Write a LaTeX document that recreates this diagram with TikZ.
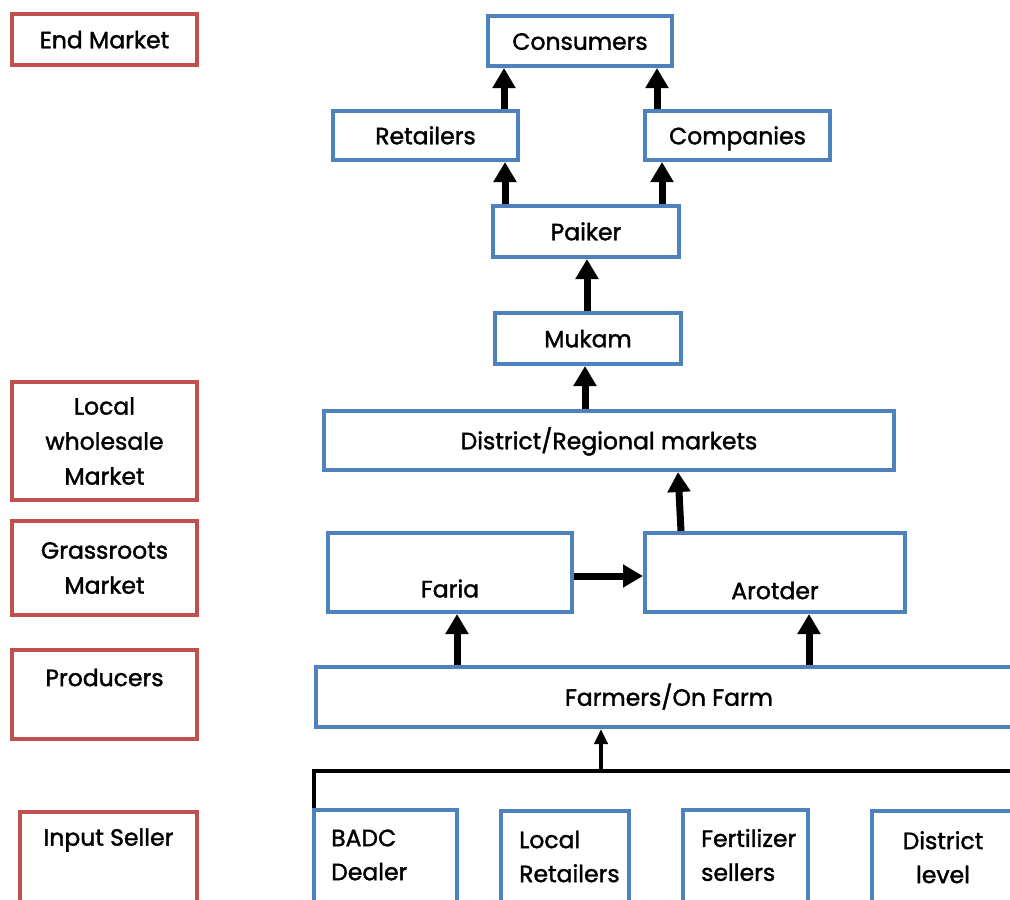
\documentclass[tikz,border=0pt]{standalone}
\usepackage{fontspec}
\setmainfont{Poppins}[FakeBold=1.6]
\usetikzlibrary{arrows.meta}
\definecolor{bbl}{RGB}{79,129,189}
\definecolor{rred}{RGB}{192,80,77}
\begin{document}
\begin{tikzpicture}[x=1pt,y=-1pt,
 box/.style={draw, line width=4pt, fill=white, inner sep=0pt, align=center, font=\fontsize{23.5}{35}\selectfont},
 bbox/.style={box, draw=bbl},
 rbox/.style={box, draw=rred},
 oneline/.style={text height=17.5pt, text depth=0pt},
 lbl/.style={font=\fontsize{23.5}{34}\selectfont, inner sep=0pt},
 arr/.style={line width=7pt, -{Triangle[width=22pt,length=20pt]}},
 thinarr/.style={line width=4pt, -{Triangle[width=13pt,length=15pt]}},
 ]
\useasboundingbox (0,0) rectangle (1010,900);
\clip (0,0) rectangle (1010,900);
% left level boxes
\node[rbox, oneline, minimum width=185pt, minimum height=51pt] (endm) at (104.5,39.5) {End Market};
\node[rbox, minimum width=185pt, minimum height=118pt] (lwm) at (104.5,441) {Local\\wholesale\\Market};
\node[rbox, minimum width=185pt, minimum height=94pt] (grm) at (104.5,568) {Grassroots\\Market};
\node[rbox, minimum width=185pt, minimum height=89pt,
  label={[lbl, anchor=center, yshift=17pt]center:Producers}] (prod) at (104.5,694.5) {};
\node[rbox, minimum width=177pt, minimum height=126pt,
  label={[lbl, anchor=center, yshift=35pt]center:Input Seller}] (inps) at (108.5,875) {};
% chain boxes
\node[bbox, oneline, minimum width=184pt, minimum height=50pt] (cons) at (580,41) {Consumers};
\node[bbox, oneline, minimum width=185pt, minimum height=49pt] (ret) at (425.5,135.5) {Retailers};
\node[bbox, oneline, minimum width=185pt, minimum height=49pt] (comp) at (737.5,135.5) {Companies};
\node[bbox, oneline, minimum width=186pt, minimum height=51pt] (paik) at (586,231.5) {Paiker};
\node[bbox, oneline, minimum width=186pt, minimum height=51pt] (muk) at (588,338.5) {Mukam};
\node[bbox, oneline, minimum width=570pt, minimum height=59pt] (dist) at (609,440.5) {District/Regional markets};
\node[bbox, minimum width=244pt, minimum height=79pt,
  label={[lbl, anchor=center, yshift=-16pt]center:Faria}] (faria) at (450,572.5) {};
\node[bbox, minimum width=260pt, minimum height=79pt,
  label={[lbl, anchor=center, yshift=-18pt]center:Arotder}] (arot) at (775,572.5) {};
\node[bbox, oneline, minimum width=706pt, minimum height=60pt] (farm) at (669,697) {Farmers/On Farm};
% input sellers
\node[bbox, minimum width=143pt, minimum height=128pt,
  label={[lbl, anchor=west, align=left, xshift=19pt, yshift=-47pt]north west:BADC\\Dealer}] (badc) at (385.5,874) {};
\node[bbox, minimum width=128pt, minimum height=128pt,
  label={[lbl, anchor=west, align=left, xshift=20pt, yshift=-48pt]north west:Local\\Retailers}] (lret) at (565,874.5) {};
\node[bbox, minimum width=125pt, minimum height=128pt,
  label={[lbl, anchor=west, align=left, xshift=20pt, yshift=-47pt]north west:Fertilizer\\sellers}] (fert) at (745.5,874) {};
\node[bbox, minimum width=142pt, minimum height=128pt,
  label={[lbl, anchor=north, align=center, yshift=-22pt]north:District\\level}] (dlev) at (943,875) {};
% x positions for arrows
\coordinate (xa) at (504,0);
\coordinate (xb) at (657,0);
\coordinate (xc) at (505,0);
\coordinate (xd) at (662,0);
\coordinate (xe) at (587,0);
\coordinate (xf) at (585,0);
\coordinate (xg1) at (681,0);
\coordinate (xg2) at (678,0);
\coordinate (yh) at (0,576);
\coordinate (xi) at (457,0);
\coordinate (xj) at (809,0);
\coordinate (xk) at (601,0);
\coordinate (junc) at (314,771);
\coordinate (jright) at (1040,771);
\coordinate (jmid) at (601,771);
% arrows
\draw[arr] (ret.north -| xa) -- (cons.south -| xa);
\draw[arr] (comp.north -| xb) -- (cons.south -| xb);
\draw[arr] (paik.north -| xc) -- (ret.south -| xc);
\draw[arr] (paik.north -| xd) -- (comp.south -| xd);
\draw[arr] (muk.north -| xe) -- (paik.south -| xe);
\draw[arr] (dist.north -| xf) -- (muk.south -| xf);
\draw[arr] (arot.north -| xg1) -- (dist.south -| xg2);
\draw[arr] (faria.east |- yh) -- (arot.west |- yh);
\draw[arr] (farm.north -| xi) -- (faria.south -| xi);
\draw[arr] (farm.north -| xj) -- (arot.south -| xj);
\draw[line width=4pt] (badc.north -| junc) -- (junc) -- (jright);
\draw[thinarr] (jmid) -- (farm.south -| xk);
\end{tikzpicture}
\end{document}
